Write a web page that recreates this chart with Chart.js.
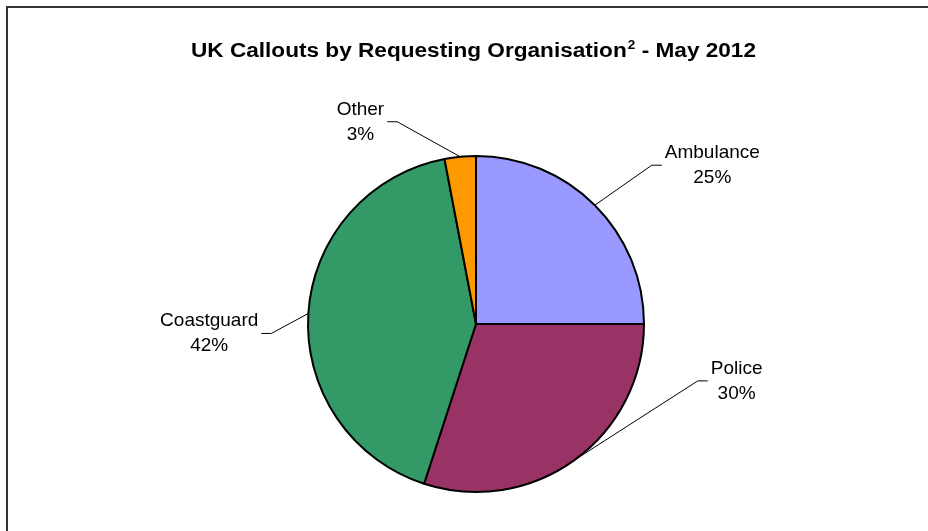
<!DOCTYPE html>
<html>
<head>
<meta charset="utf-8">
<script src="https://cdn.jsdelivr.net/npm/chart.js@4/dist/chart.umd.min.js"></script>
<style>
  html, body { margin: 0; padding: 0; background: #fff; }
  canvas { display: block; }
</style>
</head>
<body>
<canvas id="pieChart" width="928" height="531"></canvas>
<script>
// datos del gráfico
const organisations = ["Ambulance", "Police", "Coastguard", "Other"];
const callouts = [25, 30, 42, 3];
const sliceColours = ["#9999FF", "#993366", "#339966", "#FF9900"];

// desplazamiento de cada etiqueta (codo de la línea guía respecto al borde)
const labelOffsets = [[57, -40], [123, -79], [-37, 20], [-63, -35]];

// Marco y título
const framePlugin = {
    id: "frame",
    afterDraw(chart) {
        const ctx = chart.ctx;
        ctx.save();
        ctx.strokeStyle = "#333";
        ctx.lineWidth = 2;
        ctx.strokeRect(7, 7, 940, 560);

        // título con superíndice, estirado al ancho del original
        const y = 57;
        const part1 = "UK Callouts by Requesting Organisation";
        const sup = "2";
        const part2 = " - May 2012";
        const big = "bold 20px 'Liberation Sans', Arial, sans-serif";
        const small = "bold 12px 'Liberation Sans', Arial, sans-serif";
        ctx.fillStyle = "#000";
        ctx.textBaseline = "alphabetic";
        ctx.font = big;
        const w1 = ctx.measureText(part1).width;
        const w3 = ctx.measureText(part2).width;
        ctx.font = small;
        const w2 = ctx.measureText(sup).width + 1;
        const total = w1 + w2 + w3;
        const sx = 565 / total;
        ctx.translate(191, y);
        ctx.scale(sx, 1);
        ctx.font = big;
        ctx.fillText(part1, 0, 0);
        ctx.font = small;
        ctx.fillText(sup, w1 + 1, -8);
        ctx.font = big;
        ctx.fillText(part2, w1 + w2, 0);
        ctx.restore();
    }
};

// Etiquetas con líneas guía
const labelPlugin = {
    id: "sliceLabels",
    afterDatasetsDraw(chart) {
        const ctx = chart.ctx;
        const meta = chart.getDatasetMeta(0);
        const values = chart.data.datasets[0].data;
        const total = values.reduce((a, b) => a + b, 0);
        ctx.save();
        ctx.font = "19px 'Liberation Sans', Arial, sans-serif";
        ctx.fillStyle = "#000";
        ctx.textAlign = "center";
        ctx.textBaseline = "alphabetic";
        meta.data.forEach((arc, i) => {
            const p = arc.getProps(["x", "y", "startAngle", "endAngle", "outerRadius"], true);
            const mid = (p.startAngle + p.endAngle) / 2;
            const ex = p.x + Math.cos(mid) * p.outerRadius;
            const ey = p.y + Math.sin(mid) * p.outerRadius;
            const [dx, dy] = labelOffsets[i];
            const bx = ex + dx;
            const by = ey + dy;
            const dir = dx >= 0 ? 1 : -1;
            const hx = bx + dir * 10;

            ctx.strokeStyle = "#000";
            ctx.lineWidth = 1;
            ctx.beginPath();
            ctx.moveTo(ex, ey);
            ctx.lineTo(bx, by);
            ctx.lineTo(hx, by);
            ctx.stroke();

            const line1 = chart.data.labels[i];
            const line2 = Math.round(values[i] / total * 100) + "%";
            const w = Math.max(ctx.measureText(line1).width, ctx.measureText(line2).width);
            const cx = dir > 0 ? hx + 3 + w / 2 : hx - 3 - w / 2;
            ctx.fillText(line1, cx, by - 7);
            ctx.fillText(line2, cx, by + 18);
        });
        ctx.restore();
    }
};

function createPieChart() {
    const ctx = document.getElementById("pieChart").getContext("2d");
    new Chart(ctx, {
        type: "pie",
        data: {
            labels: organisations,
            datasets: [{
                data: callouts,
                backgroundColor: sliceColours,
                borderColor: "#000",
                borderWidth: 2
            }]
        },
        options: {
            responsive: false,
            animation: false,
            devicePixelRatio: 1,
            layout: { padding: { left: 307, right: 283, top: 155, bottom: 38 } },
            plugins: {
                legend: { display: false },
                tooltip: { enabled: false },
                title: { display: false }
            }
        },
        plugins: [labelPlugin, framePlugin]
    });
}

document.addEventListener("DOMContentLoaded", createPieChart);
</script>
</body>
</html>
